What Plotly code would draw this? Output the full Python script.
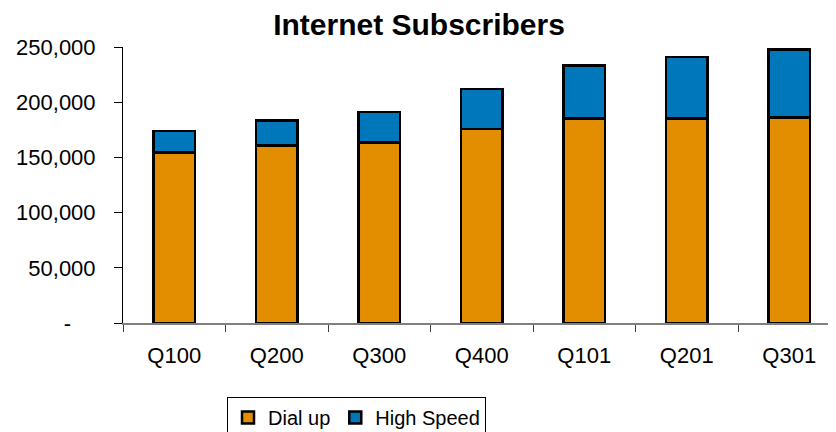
import plotly.graph_objects as go

quarters = ["Q100", "Q200", "Q300", "Q400", "Q101", "Q201", "Q301"]
dial_up = [154600, 160700, 163700, 175700, 185400, 185200, 186300]
high_speed = [19300, 22600, 27400, 36200, 47900, 55600, 61500]

y_ticks = [0, 50000, 100000, 150000, 200000, 250000]
y_labels = ["-\u00a0\u00a0\u00a0\u00a0", "50,000", "100,000", "150,000", "200,000", "250,000"]

font = "Liberation Sans, Arial, sans-serif"

fig = go.Figure()
fig.add_trace(go.Bar(x=quarters, y=dial_up, name="Dial up",
                     marker=dict(color="#E38D00", line=dict(color="black", width=2.5))))
fig.add_trace(go.Bar(x=quarters, y=high_speed, name="High Speed",
                     marker=dict(color="#0077BA", line=dict(color="black", width=2.5))))

# page body has an 8px margin, so the figure is 8px smaller than the window
fig.update_layout(
    barmode="stack",
    bargap=0.595,
    width=828, height=424,
    margin=dict(l=115, r=0, t=39, b=109, autoexpand=False),
    plot_bgcolor="white", paper_bgcolor="white",
    font=dict(family=font, size=22, color="black"),
    title=dict(text="<b>Internet Subscribers</b>", x=0.4964, xanchor="center",
               y=0.9606, yanchor="middle", font=dict(size=30)),
    legend=dict(orientation="h", x=0.3275, xanchor="center", y=-0.268, yanchor="top",
                bordercolor="black", borderwidth=1, font=dict(size=20),
                traceorder="normal", itemwidth=30),
)
fig.update_yaxes(range=[0, 250000], tickvals=y_ticks, ticktext=y_labels,
                 showgrid=False, showline=True, linecolor="black", linewidth=1,
                 ticks="outside", ticklen=8, tickcolor="black", zeroline=False,
                 ticklabelstandoff=14)
fig.update_xaxes(range=[-0.5, 6.456], showline=True, linecolor="#808080", linewidth=2,
                 ticks="outside", tickson="boundaries", ticklen=7, tickcolor="#404040",
                 showgrid=False, ticklabelstandoff=12)

fig.write_html("out.html")
